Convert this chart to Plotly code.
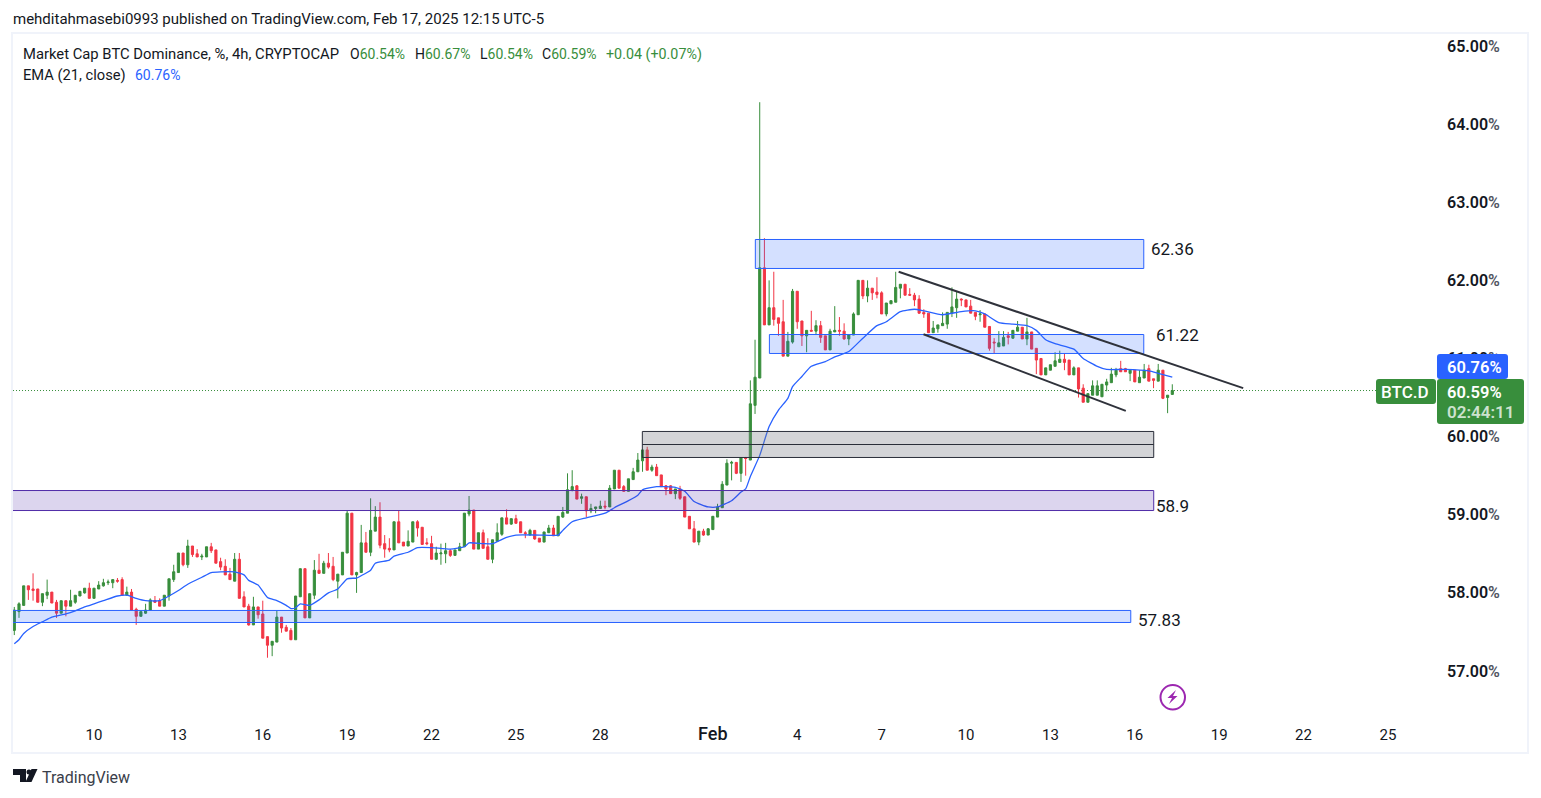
import datetime as dt
import plotly.graph_objects as go

opens = [57.52,57.76,57.84,58.09,58.05,58.05,57.88,57.97,58.01,57.88,
57.74,57.90,57.83,57.88,57.96,58.00,58.06,57.93,58.05,58.09,
58.13,58.13,58.16,58.17,57.97,58.01,57.79,57.70,57.74,57.78,
57.90,57.90,57.83,57.96,58.17,58.26,58.51,58.36,58.60,58.50,
58.46,58.46,58.59,58.55,58.40,58.34,58.24,58.15,58.43,57.95,
57.83,57.59,57.82,57.73,57.44,57.33,57.37,57.69,57.56,57.52,
57.40,57.95,58.31,57.68,57.97,58.29,58.25,58.38,58.34,58.15,
58.23,58.51,59.02,58.23,58.26,58.64,58.52,58.79,58.97,58.63,
58.57,58.55,58.91,58.65,58.60,58.65,58.91,58.84,58.64,58.63,
58.43,58.50,58.50,58.54,58.48,58.54,58.59,59.01,59.06,58.56,
58.77,58.59,58.43,58.66,58.75,58.96,58.88,58.95,58.91,58.77,
58.74,58.80,58.70,58.65,58.77,58.83,58.73,58.97,59.02,59.31,
59.37,59.21,59.23,59.05,59.08,59.08,59.11,59.10,59.33,59.57,
59.36,59.30,59.45,59.55,59.69,59.83,59.57,59.61,59.51,59.37,
59.37,59.27,59.33,59.23,58.98,58.82,58.65,58.79,58.74,58.81,
58.97,59.09,59.38,59.66,59.67,59.53,59.73,59.70,60.40,60.75,
62.16,61.43,61.65,61.52,61.47,61.03,61.21,61.86,61.48,61.29,
61.36,61.35,61.42,61.29,61.11,61.34,61.36,61.35,61.25,61.30,
61.56,62.00,61.80,61.90,61.85,61.84,61.57,61.70,61.72,61.90,
61.95,61.82,61.81,61.76,61.59,61.58,61.33,61.38,61.42,61.44,
61.58,61.65,61.76,61.75,61.67,61.59,61.56,61.57,61.41,61.21,
61.15,61.16,61.29,61.26,61.35,61.40,61.25,61.34,61.13,61.00,
60.79,60.85,60.90,60.95,60.99,60.98,60.79,60.88,60.62,60.44,
60.53,60.53,60.51,60.66,60.69,60.79,60.87,60.87,60.81,60.85,
60.69,60.75,60.87,60.74,60.71,60.85,60.50,60.54]

highs = [57.82,57.88,58.09,58.09,58.25,58.05,57.99,58.17,58.01,57.91,
57.90,57.90,58.04,57.97,58.02,58.06,58.13,58.06,58.15,58.18,
58.17,58.17,58.19,58.20,58.08,58.05,57.81,57.76,57.86,57.93,
57.96,57.93,57.97,58.18,58.36,58.51,58.51,58.68,58.60,58.56,
58.50,58.59,58.64,58.55,58.45,58.43,58.32,58.51,58.51,58.02,
57.86,57.95,57.82,57.90,57.44,57.38,57.77,57.69,57.59,57.55,
57.96,58.31,58.31,57.99,58.42,58.50,58.41,58.51,58.46,58.24,
58.52,59.05,59.02,58.27,58.87,58.78,59.21,59.11,59.16,58.74,
58.70,58.91,59.05,58.65,58.80,58.91,58.93,58.84,58.70,58.73,
58.59,58.63,58.64,58.56,58.55,58.64,59.02,59.24,59.06,58.77,
58.81,58.70,58.68,58.89,58.96,59.07,58.95,59.00,58.91,58.79,
58.82,58.80,58.70,58.78,58.87,58.87,58.98,59.10,59.53,59.57,
59.38,59.27,59.23,59.14,59.10,59.18,59.18,59.38,59.57,59.57,
59.38,59.46,59.60,59.79,59.83,59.87,59.64,59.65,59.51,59.38,
59.38,59.33,59.37,59.23,58.98,58.92,58.79,58.82,58.83,58.98,
59.14,59.43,59.71,59.69,59.67,59.73,59.74,60.72,61.24,64.28,
62.54,62.00,62.11,61.52,61.75,61.34,61.89,61.86,61.48,61.36,
61.61,61.49,61.48,61.29,61.38,61.67,61.53,61.45,61.30,61.59,
62.00,62.00,62.00,61.90,62.04,61.86,61.71,61.74,62.11,61.95,
61.95,61.90,61.84,61.81,61.63,61.58,61.48,61.43,61.59,61.59,
61.91,61.86,61.77,61.75,61.75,61.59,61.62,61.57,61.41,61.26,
61.35,61.35,61.34,61.36,61.48,61.40,61.52,61.34,61.13,61.00,
60.88,60.92,61.08,61.10,61.06,60.98,60.90,60.88,60.67,60.55,
60.72,60.72,60.67,60.74,60.88,60.88,60.97,60.88,60.85,60.85,
60.85,60.93,60.92,60.74,60.93,60.85,60.53,60.67]

lows = [57.46,57.68,57.84,57.91,57.90,57.88,57.83,57.92,57.87,57.68,
57.74,57.70,57.83,57.86,57.96,57.99,57.93,57.93,58.05,58.08,
58.10,58.06,58.13,57.97,57.97,57.78,57.59,57.70,57.73,57.78,
57.87,57.83,57.83,57.90,58.14,58.26,58.34,58.32,58.46,58.46,
58.42,58.46,58.51,58.38,58.29,58.23,58.17,58.15,57.93,57.82,
57.58,57.59,57.67,57.42,57.17,57.19,57.37,57.49,57.51,57.40,
57.40,57.95,57.68,57.68,57.92,58.25,58.25,58.31,58.15,57.93,
58.23,58.51,58.23,58.00,58.26,58.52,58.47,58.79,58.57,58.45,
58.52,58.55,58.64,58.60,58.60,58.65,58.72,58.62,58.61,58.43,
58.42,58.36,58.38,58.46,58.48,58.54,58.59,58.98,58.56,58.56,
58.57,58.43,58.38,58.66,58.73,58.88,58.87,58.89,58.77,58.70,
58.74,58.68,58.65,58.65,58.77,58.73,58.73,58.96,59.02,59.30,
59.20,59.14,58.97,59.02,59.02,59.08,59.07,59.10,59.33,59.34,
59.30,59.30,59.45,59.55,59.55,59.57,59.55,59.50,59.36,59.25,
59.27,59.20,59.19,58.97,58.82,58.65,58.61,58.73,58.74,58.81,
58.97,59.09,59.38,59.44,59.52,59.42,59.50,59.70,60.29,60.75,
61.43,61.43,61.42,61.29,61.03,61.03,61.19,61.38,61.16,61.08,
61.35,61.30,61.20,61.11,61.11,61.34,61.29,61.24,61.17,61.30,
61.56,61.76,61.72,61.75,61.77,61.57,61.54,61.70,61.72,61.77,
61.81,61.80,61.67,61.57,61.52,61.33,61.33,61.33,61.42,61.38,
61.53,61.52,61.67,61.66,61.58,61.49,61.47,61.40,61.10,61.07,
61.15,61.16,61.18,61.25,61.35,61.25,61.17,61.12,60.80,60.79,
60.79,60.85,60.90,60.95,60.85,60.79,60.79,60.50,60.44,60.44,
60.53,60.53,60.51,60.58,60.69,60.76,60.83,60.83,60.71,60.70,
60.69,60.75,60.71,60.62,60.71,60.48,60.30,60.54]

closes = [57.78,57.86,58.09,58.04,58.03,57.88,57.99,58.01,57.87,57.74,
57.90,57.83,57.90,57.97,58.02,58.06,57.93,58.06,58.10,58.13,
58.14,58.17,58.15,57.97,58.01,57.78,57.70,57.76,57.78,57.91,
57.88,57.83,57.97,58.18,58.27,58.51,58.36,58.60,58.49,58.46,
58.47,58.59,58.54,58.38,58.33,58.23,58.17,58.43,57.93,57.82,
57.59,57.82,57.72,57.42,57.33,57.38,57.69,57.55,57.51,57.40,
57.96,58.31,57.68,57.99,58.29,58.25,58.38,58.33,58.17,58.24,
58.52,59.02,58.23,58.26,58.64,58.52,58.80,58.97,58.61,58.56,
58.55,58.91,58.64,58.60,58.66,58.91,58.83,58.62,58.63,58.43,
58.51,58.51,58.54,58.48,58.55,58.59,59.02,59.06,58.56,58.77,
58.57,58.43,58.68,58.77,58.96,58.88,58.95,58.89,58.77,58.76,
58.80,58.69,58.65,58.78,58.83,58.73,58.98,59.03,59.32,59.36,
59.20,59.23,59.05,59.08,59.10,59.11,59.10,59.34,59.57,59.34,
59.30,59.46,59.55,59.70,59.83,59.57,59.61,59.50,59.36,59.33,
59.27,59.33,59.21,58.97,58.82,58.65,58.79,58.74,58.82,58.98,
59.10,59.39,59.66,59.67,59.53,59.73,59.72,60.42,60.76,62.16,
61.43,61.65,61.50,61.45,61.03,61.22,61.86,61.47,61.29,61.36,
61.35,61.42,61.27,61.11,61.35,61.36,61.35,61.25,61.30,61.57,
62.00,61.80,61.90,61.84,61.82,61.57,61.71,61.74,61.91,61.95,
61.81,61.81,61.75,61.58,61.57,61.33,61.39,61.43,61.45,61.59,
61.66,61.76,61.75,61.66,61.58,61.54,61.57,61.40,61.13,61.20,
61.20,61.27,61.27,61.36,61.40,61.25,61.34,61.12,60.98,60.79,
60.88,60.92,60.97,60.99,60.95,60.79,60.88,60.61,60.44,60.55,
60.65,60.65,60.67,60.70,60.80,60.85,60.83,60.83,60.85,60.70,
60.76,60.85,60.71,60.72,60.85,60.49,60.53,60.59]

# EMA(21) at these candle numbers
ema_pos = [0,1,2,4,6,8,11,13,15,17,19,22,24,26,28,31,33,35,37,40,42,44,47,49,50,52,54,56,58,59,60,61,63,65,67,69,71,73,
74,76,77,80,81,84,86,89,93,96,97,100,102,105,107,112,116,117,119,122,126,128,131,133,134,137,141,143,145,148,150,153,155,
156,157,159,161,163,165,166,168,170,173,175,178,181,184,186,189,192,194,198,202,205,207,210,213,216,218,220,222,226,228,231,233,237,242,244,247]
ema_val = [57.35,57.40,57.48,57.57,57.63,57.69,57.73,57.77,57.82,57.86,57.90,57.96,57.97,57.93,57.90,57.90,57.96,58.03,58.11,58.20,58.26,58.27,58.27,58.23,58.16,58.10,57.94,57.90,57.84,57.80,57.81,57.86,57.84,57.91,58.00,58.05,58.18,58.19,
58.22,58.29,58.38,58.42,58.47,58.52,58.58,58.58,58.56,58.59,58.64,58.63,58.63,58.71,58.74,58.74,58.74,58.80,58.91,58.96,59.02,59.09,59.18,59.25,59.32,59.36,59.35,59.30,59.17,59.10,59.10,59.18,59.29,
59.33,59.49,59.76,60.13,60.34,60.49,60.64,60.77,60.90,60.96,61.02,61.09,61.26,61.42,61.47,61.60,61.63,61.61,61.56,61.60,61.61,61.57,61.46,61.44,61.42,61.36,61.24,61.19,61.12,61.00,60.90,60.86,60.86,60.84,60.81,60.76]

tick_dates = ["2025-01-10","2025-01-13","2025-01-16","2025-01-19","2025-01-22","2025-01-25","2025-01-28","2025-02-01",
              "2025-02-04","2025-02-07","2025-02-10","2025-02-13","2025-02-16","2025-02-19","2025-02-22","2025-02-25"]
tick_labels = ["10","13","16","19","22","25","28",'<span style="font-size:18px;font-weight:500">Feb</span>',"4","7","10","13","16","19","22","25"]
price_ticks = [57,58,59,60,61,62,63,64,65]

# zones: start, end, top, bottom
zone_high = ["2025-02-02 12:15","2025-02-16 07:40",62.523,62.152]
zone_mid = ["2025-02-03 00:15","2025-02-16 07:40",61.307,61.064]
zone_gray = ["2025-01-29 11:50","2025-02-16 16:10",60.066,59.733,59.899]
zone_purple = ["2025-01-01 00:00","2025-02-16 16:10",59.310,59.054]
zone_low = ["2025-01-01 00:00","2025-02-15 20:35",57.775,57.621]
channel_top = ["2025-02-07 14:30",62.11,"2025-02-19 20:30",60.62]
channel_bottom = ["2025-02-08 11:45",61.31,"2025-02-15 16:20",60.33]

last_close = 60.59
GREEN = "#388e3c"; RED = "#f23645"; BLUE = "#2962ff"; INK = "#131722"
FONT = "Roboto"

start = dt.datetime(2025,1,7,4)
dates = [start + dt.timedelta(hours=4*i) for i in range(len(closes))]

L, R, T, B = 13, 1436, 34, 725
W, H = 1541, 798
def px(x): return (x-L)/(R-L)
def py(y): return (B-y)/(B-T)

fig = go.Figure()
fig.add_trace(go.Candlestick(x=dates, open=opens, high=highs, low=lows, close=closes,
    increasing=dict(line=dict(color=GREEN,width=1),fillcolor=GREEN),
    decreasing=dict(line=dict(color=RED,width=1),fillcolor=RED), showlegend=False))
fig.add_trace(go.Scatter(x=[dates[i] for i in ema_pos], y=ema_val, mode="lines",
    line=dict(color=BLUE,width=1.3,shape="spline",smoothing=0.5), showlegend=False))

shapes = []
def zone(z, line, fill, width=1):
    shapes.append(dict(type="rect",xref="x",yref="y",x0=z[0],x1=z[1],y0=z[3],y1=z[2],
        line=dict(color=line,width=width),fillcolor=fill,layer="above"))
zone(zone_high,BLUE,"rgba(41,98,255,0.2)")
zone(zone_mid,BLUE,"rgba(41,98,255,0.2)")
zone(zone_gray,"#2a2e39","rgba(120,123,134,0.33)")
shapes.append(dict(type="line",xref="x",yref="y",x0=zone_gray[0],x1=zone_gray[1],y0=zone_gray[4],y1=zone_gray[4],
    line=dict(color="#2a2e39",width=1),layer="above"))
zone(zone_purple,"#512da8","rgba(81,45,168,0.2)")
zone(zone_low,BLUE,"rgba(41,98,255,0.2)")
for c in (channel_top,channel_bottom):
    shapes.append(dict(type="line",xref="x",yref="y",x0=c[0],y0=c[1],x1=c[2],y1=c[3],
        line=dict(color="#2f323b",width=2),layer="above"))
shapes.append(dict(type="line",xref="paper",yref="y",x0=0,x1=1,y0=last_close,y1=last_close,
    line=dict(color=GREEN,width=1,dash="1px,2px"),layer="below"))

def round_box(x0,y0,x1,y1,fill,r=3):
    p=lambda x,y:f"{px(x):.5f},{py(y):.5f}"
    d=(f"M{p(x0+r,y0)} L{p(x1-r,y0)} Q{p(x1,y0)} {p(x1,y0+r)} L{p(x1,y1-r)} Q{p(x1,y1)} {p(x1-r,y1)} "
       f"L{p(x0+r,y1)} Q{p(x0,y1)} {p(x0,y1-r)} L{p(x0,y0+r)} Q{p(x0,y0)} {p(x0+r,y0)} Z")
    shapes.append(dict(type="path",xref="paper",yref="paper",path=d,fillcolor=fill,line=dict(width=0),layer="above"))
round_box(1437,354,1508,379,BLUE)
round_box(1437,379,1524,424,GREEN)
round_box(1376,379,1436,404,GREEN)

# panel border
shapes.append(dict(type="rect",xref="paper",yref="paper",x0=px(12),x1=px(1528),y0=py(753),y1=py(33),
    line=dict(color="#f0f3fa",width=2),layer="below"))
# lightning marker
shapes.append(dict(type="circle",xref="paper",yref="paper",x0=px(1160.5),x1=px(1185),y0=py(709.5),y1=py(685),
    line=dict(color="#9c27b0",width=2),fillcolor="white",layer="above"))
poly=lambda pts,col:shapes.append(dict(type="path",xref="paper",yref="paper",
    path="M"+" L".join(f"{px(a):.5f},{py(b):.5f}" for a,b in pts)+" Z",fillcolor=col,line=dict(width=0),layer="above"))
poly([(1176,690),(1167.5,698),(1172,698),(1169,704),(1177.5,696),(1173,696)],"#9c27b0")
# TradingView logo
poly([(13,769),(26,769),(26,782),(20,782),(20,775),(13,775)],"#131722")
poly([(37.5,769),(31.5,782),(25.5,782),(31.5,769)],"#131722")
shapes.append(dict(type="circle",xref="paper",yref="paper",x0=px(26.5),x1=px(31.5),y0=py(774.5),y1=py(769.5),
    fillcolor="#131722",line=dict(width=0),layer="above"))

anns = []
def ann(x,y,text,size=14,color=INK,anchor="left",weight=None):
    f=dict(family=FONT,size=size,color=color)
    if weight: f["weight"]=weight
    anns.append(dict(xref="paper",yref="paper",x=px(x-1),y=py(y),text=text,showarrow=False,
        xanchor=anchor,yanchor="middle",font=f,borderpad=0))
ann(13,19,"mehditahmasebi0993 published on TradingView.com, Feb 17, 2025 12:15 UTC-5",15)
ann(23,54,"Market Cap BTC Dominance, %, 4h, CRYPTOCAP",14.8)
g=lambda s:f'<span style="color:{GREEN}">{s}</span>'
ann(350,54,"O"+g("60.54%"))
ann(415,54,"H"+g("60.67%"))
ann(480,54,"L"+g("60.54%"))
ann(542,54,"C"+g("60.59%"))
ann(606,54,g("+0.04 (+0.07%)"),14.3)
ann(23,75,"EMA (21, close)",14.7)
ann(135,75,"60.76%",14,BLUE)
ann(1151,249,"62.36",17)
ann(1156,335,"61.22",17)
ann(1156,506,"58.9",17)
ann(1138,620,"57.83",17)
ann(1447,367,"60.76%",16.5,"white",weight=600)
ann(1447,392,"60.59%",16.5,"white",weight=600)
ann(1447,412,"02:44:11",17,"rgba(255,255,255,0.75)",weight=600)
ann(1381,392,"BTC.D",17,"white",weight=500)
ann(42,777,"TradingView",16,"#3a3e4a")

fig.update_layout(width=W,height=H,margin=dict(l=L,r=W-R,t=T,b=H-B,autoexpand=False),
    paper_bgcolor="white",plot_bgcolor="white",showlegend=False,boxgap=0.35,
    font=dict(family=FONT,color=INK),shapes=shapes,annotations=anns,
    xaxis=dict(range=["2025-01-07 02:53","2025-02-26 17:00"],rangeslider=dict(visible=False),type="date",
        tickmode="array",tickvals=tick_dates,ticktext=tick_labels,showgrid=False,zeroline=False,showline=False,
        ticks="",tickfont=dict(size=15,color=INK,family=FONT),ticklabelstandoff=-1),
    yaxis=dict(range=[56.309,65.153],side="right",tickmode="array",tickvals=price_ticks,
        ticktext=[f'{v:.2f}<span style="color:#50535e">%</span>' for v in price_ticks],showgrid=False,zeroline=False,showline=False,ticks="",
        tickfont=dict(size=16,color=INK,family=FONT,weight=600),ticklabelstandoff=10))

fig.write_html("out.html",config={"displayModeBar":False},
    post_script="document.body.style.margin='0';document.body.style.overflow='hidden';")
